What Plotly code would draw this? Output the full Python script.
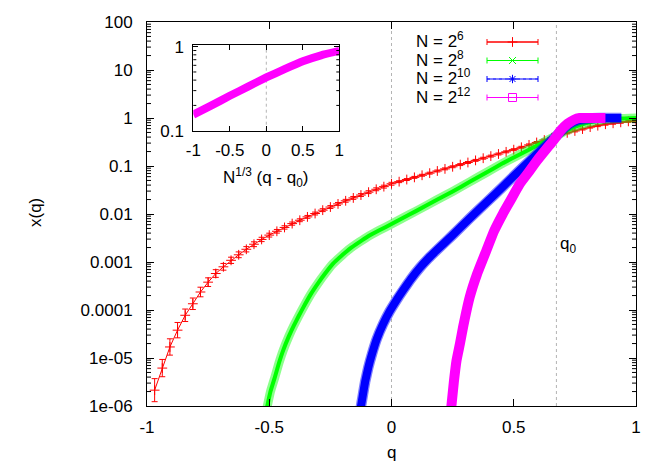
import plotly.graph_objects as go

# ---------------- data ----------------
q0 = 0.6745

# N = 2^6 : q grid step 2/64
red_q = [-0.96875, -0.9375, -0.90625, -0.875, -0.84375, -0.8125, -0.78125, -0.75,
         -0.71875, -0.6875, -0.65625, -0.625, -0.59375, -0.5625, -0.53125, -0.5,
         -0.46875, -0.4375, -0.40625, -0.375, -0.34375, -0.3125, -0.28125, -0.25,
         -0.21875, -0.1875, -0.15625, -0.125, -0.09375, -0.0625, -0.03125, 0.0,
         0.03125, 0.0625, 0.09375, 0.125, 0.15625, 0.1875, 0.21875, 0.25,
         0.28125, 0.3125, 0.34375, 0.375, 0.40625, 0.4375, 0.46875, 0.5,
         0.53125, 0.5625, 0.59375, 0.625, 0.65625, 0.6875, 0.71875, 0.75,
         0.78125, 0.8125, 0.84375, 0.875, 0.90625, 0.9375, 0.96875, 1.0]
red_log10x = [-5.67, -5.21, -4.77, -4.42, -4.11, -3.87, -3.625, -3.42,
              -3.24, -3.10, -2.965, -2.85, -2.735, -2.63, -2.53, -2.44,
              -2.36, -2.28, -2.20, -2.13, -2.06, -1.99, -1.92, -1.855,
              -1.79, -1.725, -1.665, -1.605, -1.545, -1.485, -1.43, -1.37,
              -1.326, -1.282, -1.237, -1.193, -1.149, -1.104, -1.060, -1.016,
              -0.971, -0.927, -0.883, -0.838, -0.794, -0.750, -0.705, -0.66,
              -0.61, -0.56, -0.51, -0.46, -0.41, -0.355, -0.31, -0.27,
              -0.23, -0.19, -0.16, -0.13, -0.11, -0.09, -0.07, -0.06]
# error bar half-height, in decades
red_err_dec = [0.24, 0.18, 0.17, 0.16, 0.13, 0.12, 0.10, 0.09,
               0.08, 0.07, 0.065, 0.06, 0.055, 0.05, 0.045, 0.04,
               0.038, 0.035, 0.033, 0.03, 0.03, 0.03, 0.03, 0.03,
               0.03, 0.03, 0.03, 0.03, 0.03, 0.03, 0.03, 0.03,
               0.02, 0.02, 0.02, 0.02, 0.02, 0.02, 0.02, 0.02,
               0.02, 0.02, 0.02, 0.02, 0.02, 0.02, 0.02, 0.02,
               0.02, 0.02, 0.02, 0.02, 0.02, 0.02, 0.02, 0.02,
               0.02, 0.02, 0.02, 0.02, 0.02, 0.02, 0.02, 0.02]

# N = 2^8
green_q = [-0.51, -0.495, -0.477, -0.46, -0.443, -0.42, -0.40, -0.38, -0.36, -0.33,
           -0.30, -0.27, -0.24, -0.20, -0.17, -0.13, -0.10, -0.05, 0.0, 0.05,
           0.10, 0.184, 0.25, 0.32, 0.39, 0.456, 0.52, 0.593, 0.635, 0.675,
           0.72, 0.77, 0.82, 0.87, 0.93, 1.0]
green_log10x = [-6.05, -5.7, -5.4, -5.1, -4.84, -4.55, -4.33, -4.13, -3.94, -3.67,
                -3.44, -3.23, -3.04, -2.85, -2.72, -2.58, -2.48, -2.34, -2.21, -2.075,
                -1.94, -1.71, -1.53, -1.33, -1.13, -0.94, -0.77, -0.58, -0.47, -0.37,
                -0.25, -0.15, -0.08, -0.035, -0.012, 0.0]

# N = 2^10
blue_q = [-0.128, -0.118, -0.108, -0.095, -0.08, -0.06, -0.035, -0.01, 0.02, 0.05,
          0.08, 0.116, 0.15, 0.184, 0.25, 0.32, 0.39, 0.456, 0.52, 0.593,
          0.635, 0.675, 0.70, 0.73, 0.76, 0.80, 0.85, 0.94]
blue_log10x = [-6.1, -5.8, -5.5, -5.2, -4.92, -4.6, -4.3, -4.05, -3.8, -3.57,
               -3.35, -3.12, -2.93, -2.76, -2.44, -2.09, -1.75, -1.43, -1.11, -0.76,
               -0.56, -0.37, -0.24, -0.12, -0.05, -0.015, 0.0, 0.0]

# N = 2^12
mag_q = [0.243, 0.255, 0.266, 0.28, 0.293, 0.32, 0.35, 0.388, 0.42, 0.456,
         0.484, 0.525, 0.565, 0.593, 0.634, 0.66, 0.675, 0.69, 0.72, 0.745,
         0.77, 0.82, 0.875]
mag_log10x = [-6.1, -5.5, -5.05, -4.7, -4.35, -3.73, -3.25, -2.76, -2.35, -1.99,
              -1.74, -1.37, -1.10, -0.90, -0.64, -0.48, -0.38, -0.27, -0.12, -0.04,
              0.0, 0.0, 0.0]

# inset: scaling collapse, x(q) vs N^(1/3)(q - q0)
inset_s = [-1.0, -0.75, -0.5, -0.25, 0.0, 0.25, 0.5, 0.75, 1.0]
inset_x = [0.155, 0.20, 0.26, 0.335, 0.43, 0.54, 0.67, 0.79, 0.89]

legend_labels = ["N = 2<sup>6</sup>", "N = 2<sup>8</sup>", "N = 2<sup>10</sup>", "N = 2<sup>12</sup>"]

y_tickvals = [1e-6, 1e-5, 1e-4, 1e-3, 1e-2, 1e-1, 1, 10, 100]
y_ticktext = ["1e-06", "1e-05", "0.0001", "0.001", "0.01", "0.1", "1", "10", "100"]
x_tickvals = [-1, -0.5, 0, 0.5, 1]
x_ticktext = ["-1", "-0.5", "0", "0.5", "1"]
inset_ytickvals = [0.1, 1]
inset_yticktext = ["0.1", "1"]

# ---------------- figure ----------------
FONT = "Liberation Sans, Arial, Helvetica, sans-serif"
FS = 17
RED, GREEN, BLUE, MAG = "#ff0000", "#00ff00", "#0000ff", "#ff00ff"

W, H = 664, 465
L, R, T, B = 147, 28, 22, 59
PW, PH = W - L - R, H - T - B


def px_x(p):  # pixel -> paper x
    return (p - L) / PW


def px_y(p):  # pixel -> paper y
    return (H - B - p) / PH


red_y = [10 ** v for v in red_log10x]
red_up = [y * (10 ** e - 1) for y, e in zip(red_y, red_err_dec)]
red_dn = [y * (1 - 10 ** (-e)) for y, e in zip(red_y, red_err_dec)]

SM = 0.4
fig = go.Figure()

fig.add_trace(go.Scatter(
    x=red_q, y=red_y, mode="lines+markers",
    line=dict(color=RED, width=1),
    marker=dict(symbol="cross-thin", size=7, color=RED, line=dict(color=RED, width=1)),
    error_y=dict(type="data", symmetric=False, array=red_up, arrayminus=red_dn,
                 color=RED, thickness=1, width=3),
    showlegend=False))

fig.add_trace(go.Scatter(
    x=green_q, y=[10 ** v for v in green_log10x], mode="lines",
    line=dict(color="rgba(0,255,0,0.45)", width=9, shape="spline", smoothing=SM),
    showlegend=False))
fig.add_trace(go.Scatter(
    x=green_q, y=[10 ** v for v in green_log10x], mode="lines",
    line=dict(color=GREEN, width=4, shape="spline", smoothing=SM),
    showlegend=False))

fig.add_trace(go.Scatter(
    x=blue_q, y=[10 ** v for v in blue_log10x], mode="lines",
    line=dict(color="rgba(0,0,255,0.5)", width=10.5, shape="spline", smoothing=SM),
    showlegend=False))
fig.add_trace(go.Scatter(
    x=blue_q, y=[10 ** v for v in blue_log10x], mode="lines",
    line=dict(color=BLUE, width=8, shape="spline", smoothing=SM),
    showlegend=False))

fig.add_trace(go.Scatter(
    x=mag_q, y=[10 ** v for v in mag_log10x], mode="lines",
    line=dict(color=MAG, width=10, shape="spline", smoothing=SM),
    showlegend=False))

# inset
fig.add_trace(go.Scatter(
    x=inset_s, y=inset_x, mode="lines", xaxis="x2", yaxis="y2",
    line=dict(color=MAG, width=8, shape="spline", smoothing=SM),
    showlegend=False))

# key (gnuplot style: sample line with error-bar caps)
key_rows = [42, 60.5, 79, 97.5]
key_x0, key_x1 = 487, 538
key_xc = (key_x0 + key_x1) / 2
key_styles = [
    (RED, "solid", "cross-thin", 7, 1.0),
    (GREEN, "dash", "x-thin", 7, 0.6),
    (BLUE, "dot", "asterisk-open", 7, 0.7),
    (MAG, "dot", "square-open", 8, 0.5),
]
for row, (col, dash, sym, size, op) in zip(key_rows, key_styles):
    fig.add_trace(go.Scatter(
        x=[key_x0, key_x1], y=[row, row], mode="lines", xaxis="x3", yaxis="y3",
        line=dict(color=col, width=1, dash=dash), opacity=op, showlegend=False))
    fig.add_trace(go.Scatter(
        x=[key_xc], y=[row], mode="markers", xaxis="x3", yaxis="y3",
        marker=dict(symbol=sym, size=size, color=col, line=dict(color=col, width=1)),
        error_x=dict(type="data", array=[(key_x1 - key_x0) / 2], color=col,
                     thickness=1, width=3),
        showlegend=False))

tfont = dict(family=FONT, size=FS, color="black")
annotations = []
for row, lab in zip(key_rows, legend_labels):
    annotations.append(dict(
        x=414, y=row, xref="x3", yref="y3", text=lab, showarrow=False,
        xanchor="left", yanchor="middle", yshift=2, font=tfont))

annotations += [
    dict(x=px_x(35), y=px_y(213), xref="paper", yref="paper", text="x(q)",
         xanchor="center", yanchor="middle", textangle=-90, showarrow=False, font=tfont),
    dict(x=px_x(391), y=px_y(452), xref="paper", yref="paper", text="q",
         xanchor="center", yanchor="middle", showarrow=False, font=tfont),
    dict(x=q0 + 0.006, y=-2.65, xref="x", yref="y", text="q<sub>0</sub>",
         xanchor="left", yanchor="middle", showarrow=False, font=tfont),
    dict(x=px_x(266), y=px_y(177), xref="paper", yref="paper",
         text="N<sup>1/3</sup> (q - q<sub>0</sub>)",
         xanchor="center", yanchor="middle", showarrow=False, font=tfont),
]

GRID = "#b4b4b4"
shapes = [
    dict(type="line", xref="x", yref="paper", x0=0, x1=0, y0=0, y1=1,
         line=dict(color=GRID, width=1, dash="dot"), layer="below"),
    dict(type="line", xref="x", yref="paper", x0=q0, x1=q0, y0=0, y1=1,
         line=dict(color=GRID, width=1, dash="dot"), layer="below"),
    dict(type="line", xref="x2", yref="y2 domain", x0=0, x1=0, y0=0, y1=1,
         line=dict(color=GRID, width=1, dash="dot"), layer="below"),
]

# minor log ticks (axis decoration), both sides
minor_main = [m * 10 ** e for e in range(-6, 2) for m in range(2, 10)]
minor_inset = [m / 10 for m in range(2, 10)]
for v in minor_main:
    for xa, xb in ((0, 4 / PW), (1 - 4 / PW, 1)):
        shapes.append(dict(type="line", xref="paper", yref="y", x0=xa, x1=xb, y0=v, y1=v,
                           line=dict(color="black", width=1)))
for v in minor_inset:
    for xa, xb in ((0, 3 / 146), (1 - 3 / 146, 1)):
        shapes.append(dict(type="line", xref="x2 domain", yref="y2", x0=xa, x1=xb, y0=v, y1=v,
                           line=dict(color="black", width=1)))

axis_common = dict(showline=True, linecolor="black", linewidth=1, mirror="ticks",
                   ticks="inside", tickcolor="black", showgrid=False, zeroline=False,
                   tickfont=tfont)

fig.update_layout(
    width=W, height=H,
    margin=dict(l=L, r=R, t=T, b=B, pad=0),
    paper_bgcolor="white", plot_bgcolor="rgba(0,0,0,0)",
    xaxis=dict(range=[-1, 1], tickmode="array", tickvals=x_tickvals, ticktext=x_ticktext,
               ticklen=7, ticklabelstandoff=6, **axis_common),
    yaxis=dict(type="log", range=[-6, 2], tickmode="array", tickvals=y_tickvals,
               ticktext=y_ticktext, ticklen=7, ticklabelstandoff=10, **axis_common),
    xaxis2=dict(domain=[px_x(193.3), px_x(339.3)], anchor="y2", range=[-1, 1],
                tickmode="array", tickvals=x_tickvals, ticktext=x_ticktext,
                ticklen=5, ticklabelstandoff=4, **axis_common),
    yaxis2=dict(domain=[px_y(130.7), px_y(45)], anchor="x2", type="log", range=[-1, 0.02],
                tickmode="array", tickvals=inset_ytickvals, ticktext=inset_yticktext,
                ticklen=5, ticklabelstandoff=5, **axis_common),
    xaxis3=dict(domain=[0, 1], anchor="y3", range=[L, W - R], visible=False, fixedrange=True),
    yaxis3=dict(domain=[0, 1], anchor="x3", range=[H - B, T], visible=False, fixedrange=True),
    annotations=annotations,
    shapes=shapes,
    showlegend=False,
)

fig.write_html("out.html", post_script="document.body.style.margin='0';",
               config={"displayModeBar": False})
